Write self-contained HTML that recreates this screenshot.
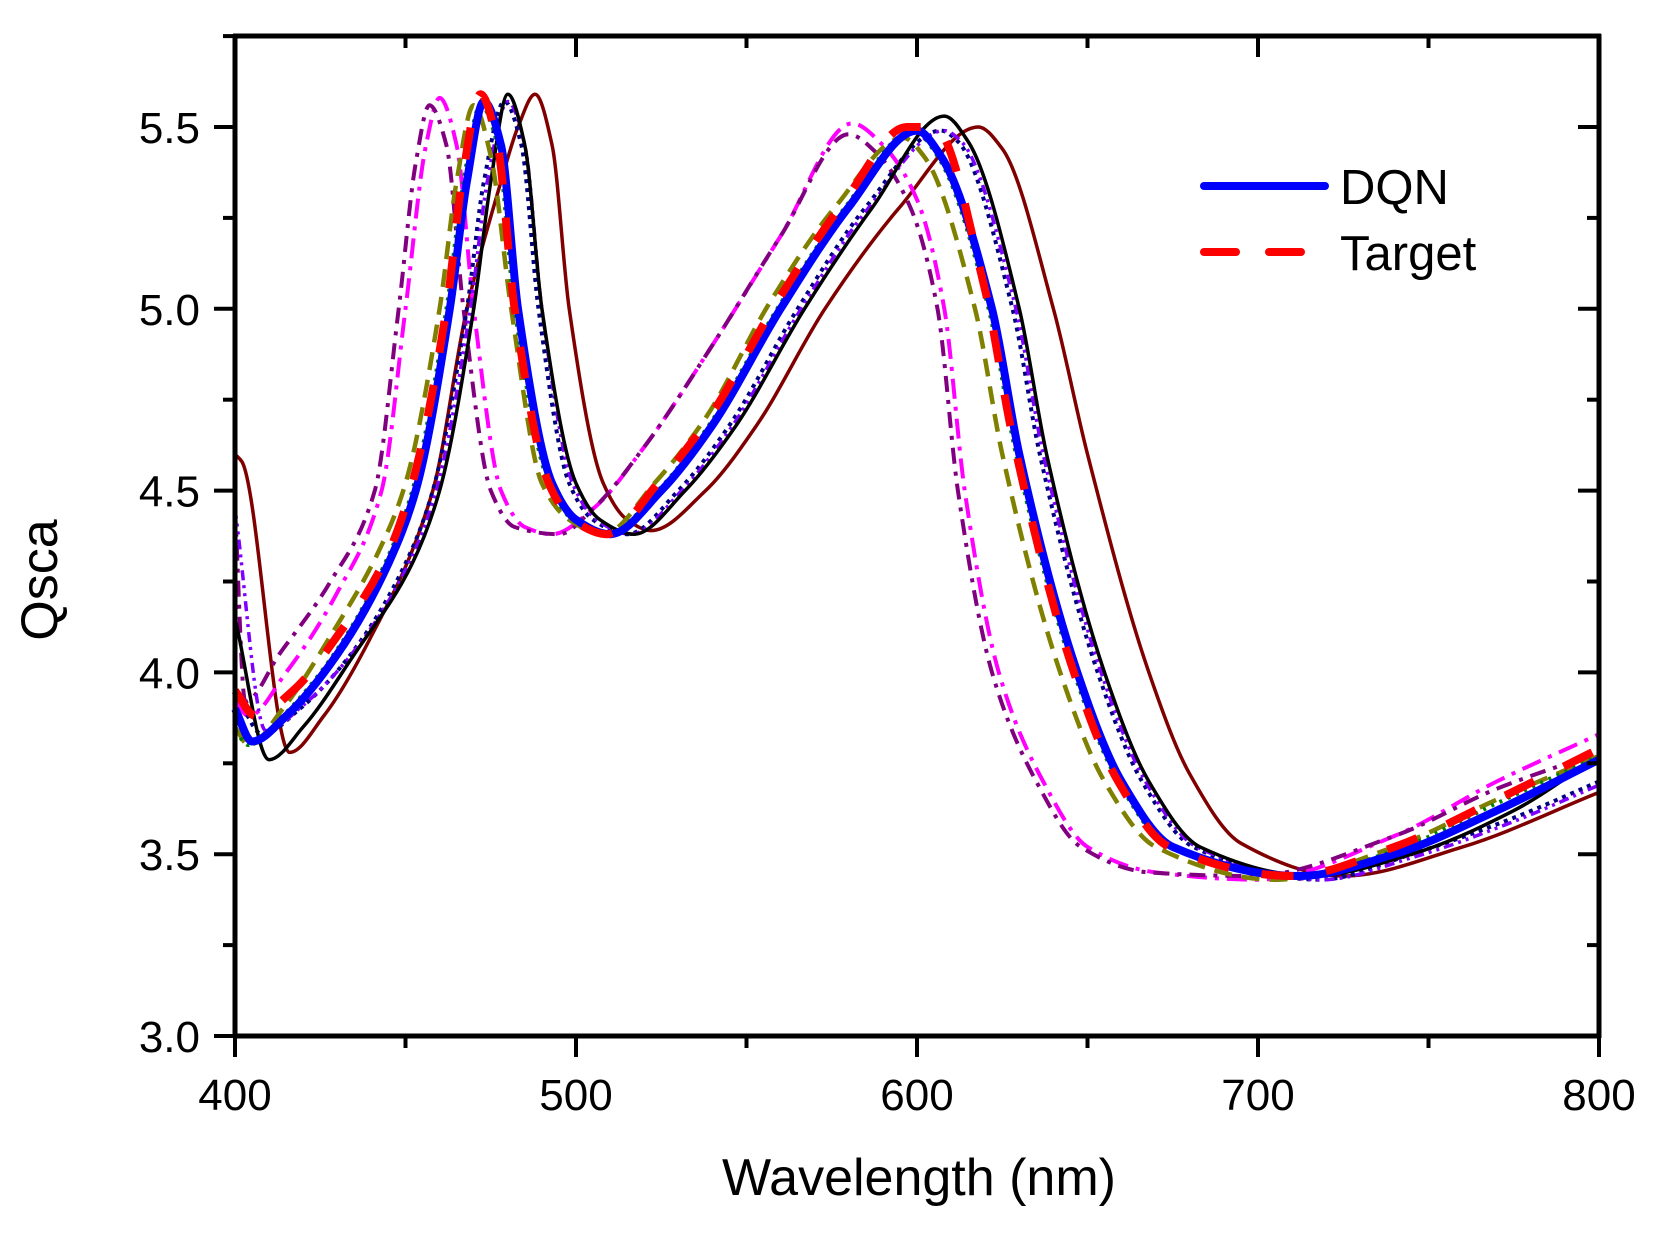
<!DOCTYPE html>
<html><head><meta charset="utf-8"><style>
html,body{margin:0;padding:0;background:#fff;}
svg text{font-family:"Liberation Sans",Arial,sans-serif;fill:#000;}
</style></head><body>
<svg id="chart" width="1656" height="1228" viewBox="0 0 1656 1228" xmlns="http://www.w3.org/2000/svg">
<g id="series"></g>
<g id="axes"></g>
<text x="919" y="1195" font-size="52" text-anchor="middle">Wavelength (nm)</text>
<text x="0" y="0" font-size="52" text-anchor="middle" transform="translate(57,580) rotate(-90)">Qsca</text>
<g>
<line x1="1204" y1="186" x2="1325" y2="186" stroke="#0000ff" stroke-width="8" stroke-linecap="round"/>
<text x="1340" y="204" font-size="49">DQN</text>
<line x1="1204" y1="252" x2="1325" y2="252" stroke="#ff0000" stroke-width="8" stroke-linecap="round" stroke-dasharray="32,33"/>
<text x="1340" y="270" font-size="49">Target</text>
</g>
</svg>
<script>
const xTicks=[400,500,600,700,800];
const yTicks=[3.0,3.5,4.0,4.5,5.0,5.5];
const yTickLabels=["3.0","3.5","4.0","4.5","5.0","5.5"];

const brownWl=[400,402,416,426,440,458,468,478,483,488,493,498,508,515,522,538,553,573,595,618,625,640,650,668,680,695,725,760,800];
const brownV=[4.60,4.58,3.78,3.88,4.10,4.50,5.0,5.35,5.50,5.59,5.45,5.0,4.52,4.42,4.39,4.50,4.68,5.0,5.28,5.50,5.44,5.0,4.6,4.0,3.72,3.53,3.44,3.52,3.67];
const magentaWl=[400,404,415,430,443,450,456,460,465,470,478,485,493,505,520,540,560,581,590,600,608,614,624,637,650,670,700,740,770,800];
const magentaV=[3.92,3.88,4.0,4.22,4.50,5.0,5.45,5.58,5.45,5.0,4.5,4.40,4.38,4.45,4.62,4.90,5.2,5.51,5.45,5.3,5.0,4.5,4.0,3.7,3.52,3.45,3.43,3.55,3.70,3.83];
const purpleWl=[400,403,413,428,441,448,453,457,462,467,475,482,495,505,520,540,560,580,588,598,606,612,622,635,648,668,698,740,770,800];
const purpleV=[4.45,3.92,4.05,4.25,4.50,5.0,5.40,5.56,5.45,5.0,4.5,4.40,4.38,4.45,4.62,4.90,5.2,5.48,5.43,5.28,5.0,4.5,4.0,3.7,3.52,3.45,3.44,3.55,3.68,3.78];
const navyWl=[400,408,419,434,450,458,468,473,479,484,489,498,505,515,530,545,565,585,607,612,628,636,653,666,681,718,745,775,800];
const navyV=[3.95,3.83,3.90,4.05,4.30,4.50,5.0,5.35,5.57,5.45,5.0,4.52,4.42,4.38,4.50,4.68,5.0,5.28,5.49,5.46,5.0,4.6,4.0,3.70,3.52,3.43,3.50,3.60,3.70];
const violetWl=[400,409,420,435,451,459,469,474,480,485,490,499,506,516,531,546,566,586,608,613,629,637,654,667,682,719,745,775,800];
const violetV=[4.45,3.84,3.91,4.06,4.30,4.50,5.0,5.35,5.57,5.45,5.0,4.52,4.42,4.38,4.50,4.68,5.0,5.28,5.49,5.46,5.0,4.6,4.0,3.70,3.52,3.43,3.49,3.59,3.69];
const blackWl=[400,410,420,435,452,460,470,475,480,485,490,500,507,517,532,547,567,587,608,615,630,638,655,668,683,716,745,775,800];
const blackV=[4.15,3.76,3.85,4.05,4.30,4.50,5.0,5.35,5.59,5.45,5.0,4.52,4.42,4.38,4.50,4.68,5.0,5.28,5.53,5.46,5.0,4.6,4.0,3.70,3.52,3.44,3.50,3.62,3.77];
const oliveWl=[400,404,414,428,443,450,460,465,470,475,481,490,498,508,523,538,557,576,596,602,617,625,642,655,670,705,740,770,800];
const oliveV=[3.85,3.80,3.90,4.10,4.35,4.52,5.0,5.35,5.56,5.42,5.0,4.52,4.42,4.38,4.52,4.70,5.02,5.28,5.47,5.42,5.0,4.6,4.0,3.70,3.52,3.43,3.52,3.65,3.77];
const greenWl=[400,404,414,429,444,452,462,467,472,477,482,492,499,509,524,539,559,579,599,606,621,629,646,659,674,711,740,770,800];
const greenV=[3.84,3.80,3.88,4.05,4.30,4.50,5.0,5.35,5.56,5.45,5.0,4.52,4.42,4.38,4.50,4.68,5.0,5.28,5.49,5.42,5.0,4.6,4.0,3.70,3.52,3.44,3.51,3.64,3.77];
const targetWl=[400,406,417,430,445,452,462,467,472,477,482,492,499,509,524,539,559,579,597,605,620,628,646,659,674,710,740,770,800];
const targetV=[3.95,3.88,3.95,4.10,4.33,4.52,5.0,5.38,5.59,5.45,5.0,4.52,4.42,4.38,4.52,4.70,5.02,5.30,5.50,5.50,5.05,4.65,4.0,3.70,3.52,3.44,3.52,3.65,3.79];
const dqnWl=[400,405,415,430,445,453,463,468,473,478,483,493,500,510,525,540,560,580,600,607,622,630,647,660,675,712,740,770,800];
const dqnV=[3.90,3.81,3.88,4.05,4.30,4.50,5.0,5.35,5.57,5.45,5.0,4.52,4.42,4.38,4.50,4.68,5.0,5.28,5.49,5.42,5.0,4.6,4.0,3.70,3.52,3.44,3.50,3.62,3.76];

const X0=235,X1=1599,Y0=1036,YTOP=36;
function sx(w){return X0+(w-400)/400*(X1-X0);}
function sy(v){return Y0-(v-3.0)*363.6;}
const NS="http://www.w3.org/2000/svg";

function pathD(wl,v){
  const x=wl.map(sx), y=v.map(sy), n=x.length;
  const d=[], m=new Array(n);
  for(let i=0;i<n-1;i++) d.push((y[i+1]-y[i])/(x[i+1]-x[i]));
  m[0]=d[0]; m[n-1]=d[n-2];
  for(let i=1;i<n-1;i++){
    if(d[i-1]*d[i]<=0) m[i]=0;
    else{
      const h0=x[i]-x[i-1], h1=x[i+1]-x[i];
      const w1=2*h1+h0, w2=h1+2*h0;
      m[i]=(w1+w2)/(w1/d[i-1]+w2/d[i]);
    }
  }
  let s="M"+x[0].toFixed(1)+","+y[0].toFixed(1);
  for(let i=0;i<n-1;i++){
    const h=(x[i+1]-x[i])/3;
    s+=" C"+(x[i]+h).toFixed(1)+","+(y[i]+m[i]*h).toFixed(1)+" "+(x[i+1]-h).toFixed(1)+","+(y[i+1]-m[i+1]*h).toFixed(1)+" "+x[i+1].toFixed(1)+","+y[i+1].toFixed(1);
  }
  return s;
}
const sg=document.getElementById("series");
function addSeries(name,wl,v,color,width,dash){
  const el=document.createElementNS(NS,"path");
  el.setAttribute("d",pathD(wl,v));
  el.setAttribute("fill","none");
  el.setAttribute("stroke",color);
  el.setAttribute("stroke-width",width);
  el.setAttribute("stroke-linejoin","round");
  if(dash){el.setAttribute("stroke-dasharray",dash);}
  
  
  sg.appendChild(el);
}
addSeries("series-brown",brownWl,brownV,"#800000",3.5,null);
addSeries("series-magenta",magentaWl,magentaV,"#ff00ff",4,"20,8,4,8");
addSeries("series-purple",purpleWl,purpleV,"#800080",4,"16,8,4,8");
addSeries("series-navy",navyWl,navyV,"#000080",4,"4,5");
addSeries("series-violet",violetWl,violetV,"#8000ff",3.5,"10,5,3,5,3,5");
addSeries("series-black",blackWl,blackV,"#000000",3.5,null);
addSeries("series-olive",oliveWl,oliveV,"#808000",4.5,"18,10");
addSeries("series-green",greenWl,greenV,"#008000",4,"3,6");
addSeries("series-dqn",dqnWl,dqnV,"#0000ff",8,null);
addSeries("series-target",targetWl,targetV,"#ff0000",8,"32,33");

const ag=document.getElementById("axes");
function ln(name,x1,y1,x2,y2,w){
  const el=document.createElementNS(NS,"line");
  el.setAttribute("x1",x1);el.setAttribute("y1",y1);el.setAttribute("x2",x2);el.setAttribute("y2",y2);
  el.setAttribute("stroke","#000");el.setAttribute("stroke-width",w);
  
  
  ag.appendChild(el);
}
function tx(name,x,y,s,anchor){
  const el=document.createElementNS(NS,"text");
  el.setAttribute("x",x);el.setAttribute("y",y);el.setAttribute("font-size","44");el.setAttribute("text-anchor",anchor);
  el.textContent=s;
  
  
  ag.appendChild(el);
}
ln("plot-frame-left",X0,YTOP-2,X0,Y0+2,5);
ln("plot-frame-right",X1,YTOP-2,X1,Y0+2,5);
ln("plot-frame-top",X0-2,YTOP,X1+2,YTOP,5);
ln("plot-frame-bottom",X0-2,Y0,X1+2,Y0,5);
for(let w=400;w<=800;w+=50){
  const major=(w%100===0);
  const L=major?21:12;
  ln("x-tick",sx(w),Y0,sx(w),Y0+L,4);
  ln("x-tick-top",sx(w),YTOP,sx(w),YTOP+L,4);
}
xTicks.forEach(w=>tx("x-tick-label",sx(w),1110,String(w),"middle"));
for(let k=0;k<=11;k++){
  const v=3.0+k*0.25;
  const major=(k%2===0);
  const L=major?21:12;
  ln("y-tick",X0-L,sy(v),X0,sy(v),4);
  ln("y-tick-right",X1-L,sy(v),X1,sy(v),4);
}
yTicks.forEach((v,i)=>tx("y-tick-label",200,sy(v)+16,yTickLabels[i],"end"));
</script>
</body></html>
